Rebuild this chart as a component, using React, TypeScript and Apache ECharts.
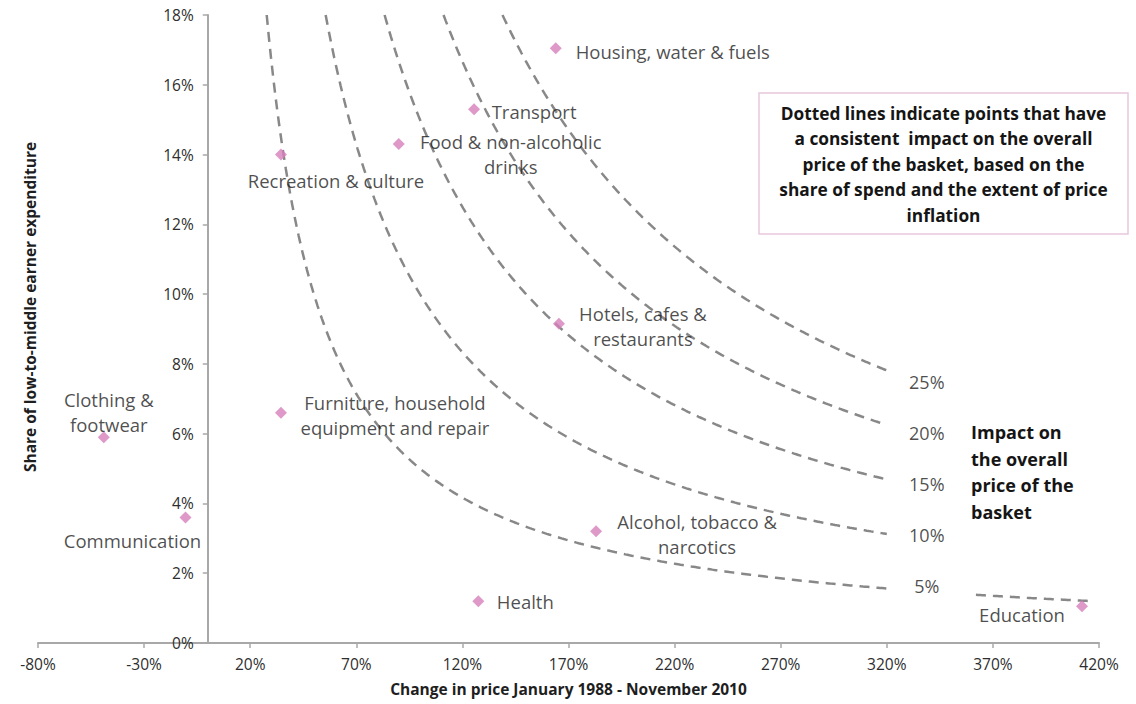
import React, { useEffect, useRef } from "react";
import * as echarts from "echarts";

// ---- Data ----
const CATEGORIES = [
  "Housing, water & fuels",
  "Transport",
  "Food & non-alcoholic\ndrinks",
  "Recreation & culture",
  "Hotels, cafes &\nrestaurants",
  "Furniture, household\nequipment and repair",
  "Clothing &\nfootwear",
  "Communication",
  "Alcohol, tobacco &\nnarcotics",
  "Health",
  "Education",
];
// Change in price Jan 1988 - Nov 2010 (%)
const PRICE_CHANGE = [164, 125.5, 90, 34.5, 165.5, 34.5, -49, -10.5, 183, 127.5, 412];
// Share of low-to-middle earner expenditure (%)
const SHARE = [17.05, 15.3, 14.3, 14.0, 9.15, 6.6, 5.9, 3.6, 3.2, 1.2, 1.05];

// Impact on overall price of the basket (%): lines of constant price change x share
const IMPACT_LEVELS = [5, 10, 15, 20, 25];
// visible x ranges (%) of each impact line
const CURVE_RANGES: number[][][] = [
  [[0, 320], [362, 418]],
  [[0, 320]],
  [[0, 320]],
  [[0, 320]],
  [[0, 320]],
];
const CURVE_LABEL_X = 320;

const X_TICKS = { min: -80, max: 420, interval: 50 };
const Y_TICKS = { min: 0, max: 18, interval: 2 };

// ---- Styles (label offsets, px) ----
const LABEL_OFFSETS = [
  [117, 3],
  [60, 2],
  [112, 10],
  [55, 26],
  [84, 2],
  [114, 2],
  [5, -25],
  [-53, 23],
  [101, 3],
  [47, 0],
  [-60, 8],
];
const CURVE_LABEL_DY = [-2, 1, 5, 8, 12];

const FONT = "'Open Sans', 'DejaVu Sans', sans-serif";
const AXIS_COLOR = "#a8a8a8";
const TEXT_COLOR = "#1e1e1e";

const GRID = { left: 38, right: 37, top: 15, bottom: 61 };
const WIDTH = 1136;

function curveData(level: number, ranges: number[][]) {
  const out: any[] = [];
  const yTop = Y_TICKS.max;
  ranges.forEach((r, i) => {
    const start = Math.max(r[0], (100 * level) / yTop);
    const end = r[1];
    if (i > 0) out.push("-");
    for (let x = start; x < end; x += 1) out.push([x, (100 * level) / x]);
    out.push([end, (100 * level) / end]);
  });
  return out;
}

export default function App() {
  const ref = useRef<HTMLDivElement>(null);
  useEffect(() => {
    const chart = echarts.init(ref.current!, null, { renderer: "svg" });

    // y axis crosses the x axis at 0%
    const plotW = WIDTH - GRID.left - GRID.right;
    const zeroOffset = ((0 - X_TICKS.min) / (X_TICKS.max - X_TICKS.min)) * plotW;

    const curveSeries = IMPACT_LEVELS.map((lvl, i) => ({
      type: "line",
      name: lvl + "%",
      data: curveData(lvl, CURVE_RANGES[i]),
      showSymbol: false,
      connectNulls: false,
      silent: true,
      z: 1,
      lineStyle: { color: "#888888", width: 2.5, type: [10, 7] },
    }));

    const option: any = {
      animation: false,
      backgroundColor: "#ffffff",
      textStyle: { fontFamily: FONT },
      grid: { ...GRID, containLabel: false, outerBoundsMode: "none" },
      xAxis: {
        type: "value",
        min: X_TICKS.min,
        max: X_TICKS.max,
        interval: X_TICKS.interval,
        name: "Change in price January 1988 - November 2010",
        nameLocation: "middle",
        nameGap: 38,
        nameTextStyle: { fontFamily: FONT, fontWeight: "bold", fontSize: 15.5, color: TEXT_COLOR },
        axisLine: { onZero: true, lineStyle: { color: AXIS_COLOR, width: 2 } },
        axisTick: { show: true, length: 5, lineStyle: { color: AXIS_COLOR, width: 1.5 } },
        axisLabel: {
          formatter: (v: number) => v + "%",
          fontSize: 15.5,
          color: "#2e2e2e",
          margin: 13,
          fontFamily: FONT,
        },
        splitLine: { show: false },
      },
      yAxis: {
        type: "value",
        min: Y_TICKS.min,
        max: Y_TICKS.max,
        interval: Y_TICKS.interval,
        offset: -zeroOffset,
        axisLine: { show: true, onZero: false, lineStyle: { color: AXIS_COLOR, width: 2 } },
        axisTick: { show: true, length: 5, lineStyle: { color: AXIS_COLOR, width: 1.5 } },
        axisLabel: {
          formatter: (v: number) => v + "%",
          fontSize: 15.5,
          color: "#2e2e2e",
          margin: 14,
          fontFamily: FONT,
        },
        splitLine: { show: false },
      },
      graphic: [
        {
          type: "text",
          x: 30,
          y: 307,
          rotation: Math.PI / 2,
          style: {
            text: "Share of low-to-middle earner expenditure",
            font: "bold 15.5px " + FONT,
            fill: TEXT_COLOR,
            textAlign: "center",
            textVerticalAlign: "middle",
          },
        },
        {
          type: "rect",
          shape: { x: 759, y: 93, width: 369, height: 141 },
          style: { fill: "#ffffff", stroke: "#e7c8de", lineWidth: 1.5 },
          z: 10,
        },
        {
          type: "text",
          x: 943.5,
          y: 164,
          z: 11,
          style: {
            text:
              "Dotted lines indicate points that have\na consistent  impact on the overall\nprice of the basket, based on the\nshare of spend and the extent of price\ninflation",
            font: "bold 17.3px " + FONT,
            fill: "#151515",
            textAlign: "center",
            textVerticalAlign: "middle",
            lineHeight: 25.5,
          },
        },
        {
          type: "text",
          x: 971,
          y: 472,
          z: 11,
          style: {
            text: "Impact on\nthe overall\nprice of the\nbasket",
            font: "bold 18px " + FONT,
            fill: "#151515",
            textAlign: "left",
            textVerticalAlign: "middle",
            lineHeight: 26.5,
          },
        },
      ],
      series: [
        ...curveSeries,
        {
          type: "scatter",
          name: "Impact labels",
          symbolSize: 1,
          silent: true,
          itemStyle: { color: "rgba(0,0,0,0)" },
          z: 3,
          data: IMPACT_LEVELS.map((lvl, i) => ({
            value: [CURVE_LABEL_X, (100 * lvl) / CURVE_LABEL_X],
            label: {
              show: true,
              position: "inside",
              offset: [40, CURVE_LABEL_DY[i]],
              formatter: lvl + "%",
              color: TEXT_COLOR,
              fontSize: 18,
              fontFamily: FONT,
            },
          })),
        },
        {
          type: "scatter",
          name: "Categories",
          symbol: "diamond",
          symbolSize: 12,
          z: 5,
          itemStyle: { color: "#d67fbb" },
          data: CATEGORIES.map((c, i) => ({
            name: c,
            value: [PRICE_CHANGE[i], SHARE[i]],
            label: {
              show: true,
              position: "inside",
              offset: LABEL_OFFSETS[i],
              align: "center",
              verticalAlign: "middle",
              formatter: c,
              color: TEXT_COLOR,
              fontSize: 18.5,
              lineHeight: 25,
              fontFamily: FONT,
            },
          })),
        },
      ],
    };

    chart.setOption(option);
    return () => chart.dispose();
  }, []);

  return (
    <div
      ref={ref}
      style={{ position: "absolute", left: 0, top: 0, width: 1136, height: 704, background: "#fff" }}
    />
  );
}
